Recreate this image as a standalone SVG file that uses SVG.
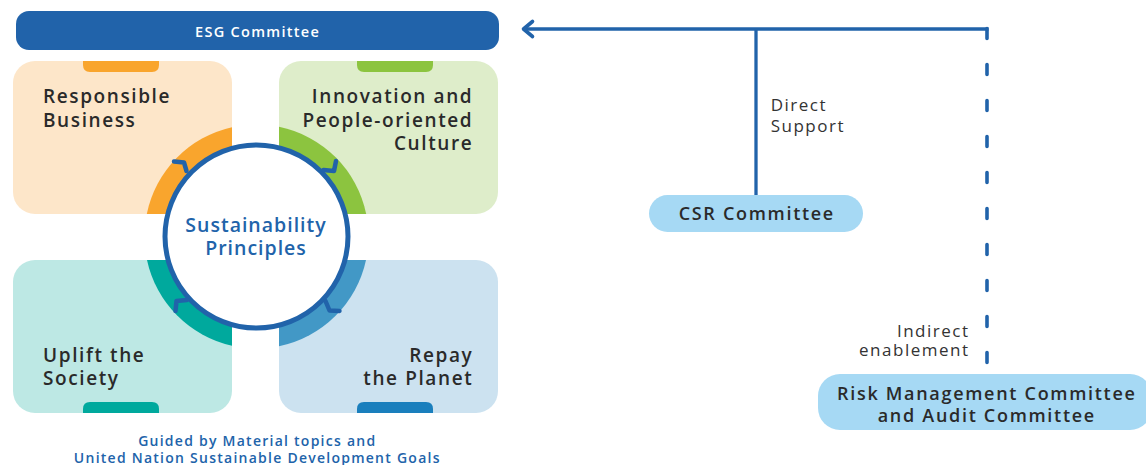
<svg xmlns="http://www.w3.org/2000/svg" width="1146" height="465" viewBox="0 0 1146 465">
  <defs>
    <style>
      .lbl { font-family: "Open Sans", "Liberation Sans", sans-serif; font-weight: 600; font-size: 19px; letter-spacing: 1.6px; fill: #2a2a2a; }
      .ctr { font-family: "Open Sans", "Liberation Sans", sans-serif; font-weight: 600; font-size: 19.5px; letter-spacing: 1px; fill: #2163aa; text-anchor: middle; }
      .node { font-family: "Open Sans", "Liberation Sans", sans-serif; font-weight: 600; font-size: 18px; letter-spacing: 1.7px; fill: #2a2a2a; text-anchor: middle; }
      .edge { font-family: "Open Sans", "Liberation Sans", sans-serif; font-weight: 400; font-size: 17px; letter-spacing: 1.5px; fill: #333333; }
      .cap { font-family: "Open Sans", "Liberation Sans", sans-serif; font-weight: 600; font-size: 14px; letter-spacing: 1.25px; fill: #2163aa; text-anchor: middle; }
      .ln { stroke: #2163aa; stroke-width: 3.3; fill: none; }
      .hook { stroke: #2163aa; stroke-width: 4.5; fill: none; stroke-linecap: round; stroke-linejoin: round; }
      .pill { fill: #a6d9f4; }
    </style>
  </defs>
  <rect width="1146" height="465" fill="#ffffff"/>

  <g id="esg-committee">
    <rect x="16" y="11" width="483" height="39" rx="13" fill="#2163aa"/>
    <text x="257.6" y="36.5" text-anchor="middle" style="font-family:'Open Sans','Liberation Sans',sans-serif;font-weight:600;font-size:14.5px;letter-spacing:1.3px;fill:#ffffff">ESG Committee</text>
  </g>

  <g id="responsible-business">
    <rect x="13" y="61" width="219" height="153" rx="22" fill="#fde6c9"/>
    <path d="M83,61 H159 V65 Q159,72 152,72 H90 Q83,72 83,65 Z" fill="#f9a52d"/>
    <path d="M232,127.2 A112,112 0 0 0 146.8,214 L232,214 Z" fill="#f9a52d"/>
    <text class="lbl" x="43" y="102.7">Responsible</text>
    <text class="lbl" x="43" y="126.7">Business</text>
  </g>

  <g id="innovation-culture">
    <rect x="279" y="61" width="219" height="153" rx="22" fill="#deedca"/>
    <path d="M357,61 H433 V65 Q433,72 426,72 H364 Q357,72 357,65 Z" fill="#8cc43f"/>
    <path d="M279,126.8 A112,112 0 0 1 366.2,214 L279,214 Z" fill="#8cc43f"/>
    <text class="lbl" x="473.3" y="102.7" text-anchor="end">Innovation and</text>
    <text class="lbl" x="473.3" y="126.7" text-anchor="end">People-oriented</text>
    <text class="lbl" x="473.3" y="149.5" text-anchor="end">Culture</text>
  </g>

  <g id="uplift-society">
    <rect x="13" y="260" width="219" height="153" rx="22" fill="#bde8e4"/>
    <path d="M83,413 V409 Q83,402 90,402 H152 Q159,402 159,409 V413 Z" fill="#00a99d"/>
    <path d="M147,260 A112,112 0 0 0 232,345.8 L232,260 Z" fill="#00a99d"/>
    <text class="lbl" x="43" y="361.7">Uplift the</text>
    <text class="lbl" x="43" y="385">Society</text>
  </g>

  <g id="repay-planet">
    <rect x="279" y="260" width="219" height="153" rx="22" fill="#cce2f0"/>
    <path d="M357,413 V409 Q357,402 364,402 H426 Q433,402 433,409 V413 Z" fill="#1a7fbd"/>
    <path d="M279,346.2 A112,112 0 0 0 366,260 L279,260 Z" fill="#4298c6"/>
    <text class="lbl" x="473.3" y="361.7" text-anchor="end">Repay</text>
    <text class="lbl" x="473.3" y="385" text-anchor="end">the Planet</text>
  </g>

  <g id="sustainability-principles">
    <circle cx="256.5" cy="236.5" r="91.5" fill="#ffffff" stroke="#2163aa" stroke-width="5"/>
    <polyline class="hook" points="174,161.5 184,162.5 186.5,171"/>
    <polyline class="hook" points="336,161 334,171 323.5,170"/>
    <polyline class="hook" points="175.5,311 176.5,301 187,300"/>
    <polyline class="hook" points="325.5,301 329.5,310.5 339.5,311"/>
    <text class="ctr" x="256" y="231.7">Sustainability</text>
    <text class="ctr" x="256" y="255">Principles</text>
  </g>

  <g id="caption">
    <text class="cap" x="257.3" y="446">Guided by Material topics and</text>
    <text class="cap" x="257.3" y="462.5">United Nation Sustainable Development Goals</text>
  </g>

  <g id="connectors">
    <line class="ln" x1="524" y1="29" x2="988.5" y2="29"/>
    <polyline points="532.5,21.5 523.5,29 532.5,36.5" fill="none" stroke="#2163aa" stroke-width="3.6" stroke-linecap="round" stroke-linejoin="round"/>
    <line class="ln" x1="756" y1="29" x2="756" y2="196"/>
    <line x1="987" y1="28.5" x2="987" y2="363" stroke="#2163aa" stroke-width="3.6" stroke-linecap="round" stroke-dasharray="10 26"/>
    <text class="edge" x="770.7" y="111">Direct</text>
    <text class="edge" x="770.7" y="131.7">Support</text>
    <text class="edge" x="969.5" y="336.7" text-anchor="end">Indirect</text>
    <text class="edge" x="969.5" y="356" text-anchor="end">enablement</text>
  </g>

  <g id="csr-committee">
    <rect class="pill" x="649" y="195" width="214" height="37" rx="18.5"/>
    <text class="node" x="756.8" y="219.5">CSR Committee</text>
  </g>

  <g id="risk-audit-committee">
    <rect class="pill" x="818" y="374" width="334" height="56" rx="22"/>
    <text class="node" x="986.8" y="400">Risk Management Committee</text>
    <text class="node" x="986.8" y="421.7">and Audit Committee</text>
  </g>
</svg>
